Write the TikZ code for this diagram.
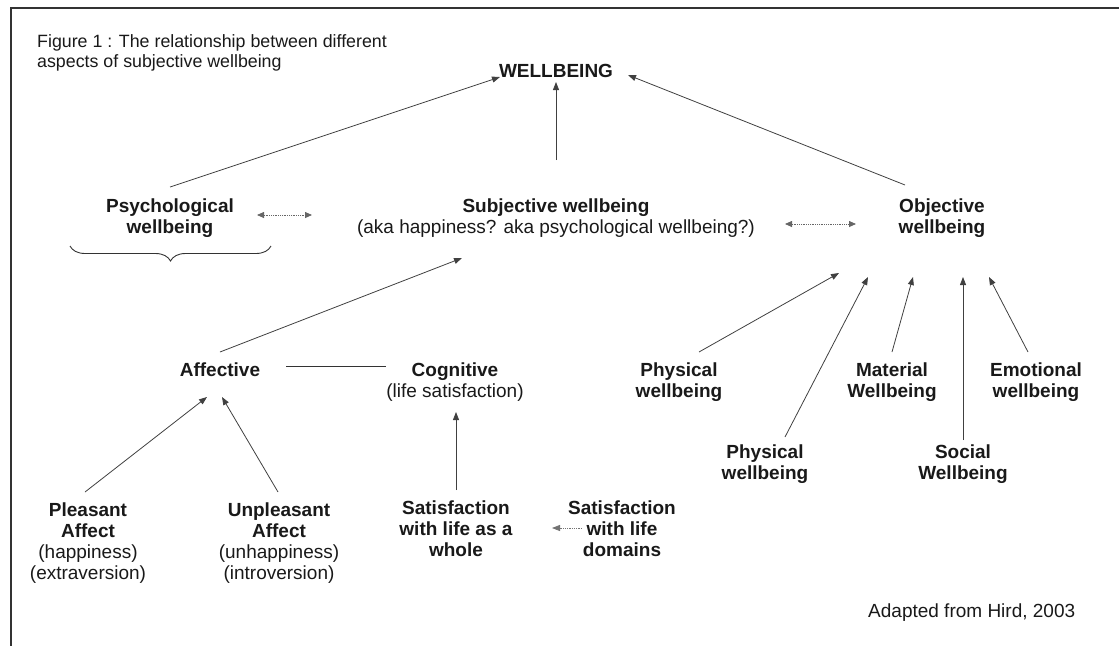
\documentclass[tikz,border=0pt]{standalone}
\usepackage{fontspec}
\setmainfont{Liberation Sans}
\usetikzlibrary{arrows.meta,calc,decorations.pathreplacing}
\begin{document}
\begin{tikzpicture}[x=1pt,y=-1pt,
  lab/.style={font=\fontsize{19}{21}\selectfont, align=center, inner sep=0pt, text=black!90},
  arr/.style={draw=black!75, line width=0.8pt, -{Triangle[length=8pt,width=6pt]}},
  darr/.style={draw=black!60, line width=0.8pt, densely dotted, {Triangle[length=7pt,width=6pt]}-{Triangle[length=7pt,width=6pt]}},
  plain/.style={draw=black!80, line width=0.9pt}]
\useasboundingbox (0,0) rectangle (1119,646);
\draw[line width=1.6pt, black!80] (1119,8) -- (11,8) -- (11,646);

\node[lab, font=\fontsize{17.8}{19.5}\selectfont, anchor=west, align=left] (title) at (37,53) {Figure 1 : The relationship between different\\aspects of subjective wellbeing};
\node[lab, font=\fontsize{19}{21}\selectfont\bfseries] (wb) at (556,71) {WELLBEING};
\node[lab] (psy) at (170,218) {\textbf{Psychological}\\\textbf{wellbeing}};
\node[lab] (subj) at (556,218) {\textbf{Subjective wellbeing}\\(aka happiness? aka psychological wellbeing?)};
\node[lab] (obj) at (942,218) {\textbf{Objective}\\\textbf{wellbeing}};
\node[lab] (aff) at (220,370) {\textbf{Affective}};
\node[lab] (cog) at (455,382) {\textbf{Cognitive}\\(life satisfaction)};
\node[lab] (phys1) at (679,382) {\textbf{Physical}\\\textbf{wellbeing}};
\node[lab] (mat) at (892,382) {\textbf{Material}\\\textbf{Wellbeing}};
\node[lab] (emo) at (1036,382) {\textbf{Emotional}\\\textbf{wellbeing}};
\node[lab] (phys2) at (765,464) {\textbf{Physical}\\\textbf{wellbeing}};
\node[lab] (soc) at (963,464) {\textbf{Social}\\\textbf{Wellbeing}};
\node[lab] (pleas) at (88,543) {\textbf{Pleasant}\\\textbf{Affect}\\(happiness)\\(extraversion)};
\node[lab] (unpl) at (279,543) {\textbf{Unpleasant}\\\textbf{Affect}\\(unhappiness)\\(introversion)};
\node[lab] (swh) at (456,529) {\textbf{Satisfaction}\\\textbf{with life as a}\\\textbf{whole}};
\node[lab] (sdom) at (622,529) {\textbf{Satisfaction}\\\textbf{with life}\\\textbf{domains}};
\node[lab, anchor=west] (src) at (868,613) {Adapted from Hird, 2003};

\draw[decorate, decoration={brace, amplitude=15pt, mirror}, plain] (70,246) -- (271,246);

\draw[arr] ($(psy)+(0,-31)$) -- ($(wb)+(-56,6)$);
\draw[arr] ($(subj)+(0,-58)$) -- ($(wb)+(0,11)$);
\draw[arr] ($(obj)+(-37,-33)$) -- ($(wb)+(72,4)$);
\draw[darr] ($(psy)+(87,-3)$) -- ($(subj)+(-244,-3)$);
\draw[darr] ($(subj)+(229,6)$) -- ($(obj)+(-86,6)$);
\draw[arr] ($(aff)+(0,-18)$) -- ($(subj)+(-94,40)$);
\draw[plain] ($(aff)+(66,-4)$) -- ($(cog)+(-69,-16)$);
\draw[arr] ($(pleas)+(-3,-51)$) -- ($(aff)+(-13,27)$);
\draw[arr] ($(unpl)+(-1,-51)$) -- ($(aff)+(2,27)$);
\draw[arr] ($(swh)+(0,-39)$) -- ($(cog)+(1,30)$);
\draw[arr, draw=black!55, densely dotted] ($(sdom)+(-40,-1)$) -- ($(swh)+(96,-1)$);
\draw[arr] ($(phys1)+(20,-30)$) -- ($(obj)+(-103,55)$);
\draw[arr] ($(phys2)+(20,-27)$) -- ($(obj)+(-74,59)$);
\draw[arr] ($(mat)+(0,-30)$) -- ($(obj)+(-29,59)$);
\draw[arr] ($(soc)+(0,-24)$) -- ($(obj)+(21,59)$);
\draw[arr] ($(emo)+(-8,-30)$) -- ($(obj)+(47,59)$);
\end{tikzpicture}
\end{document}
